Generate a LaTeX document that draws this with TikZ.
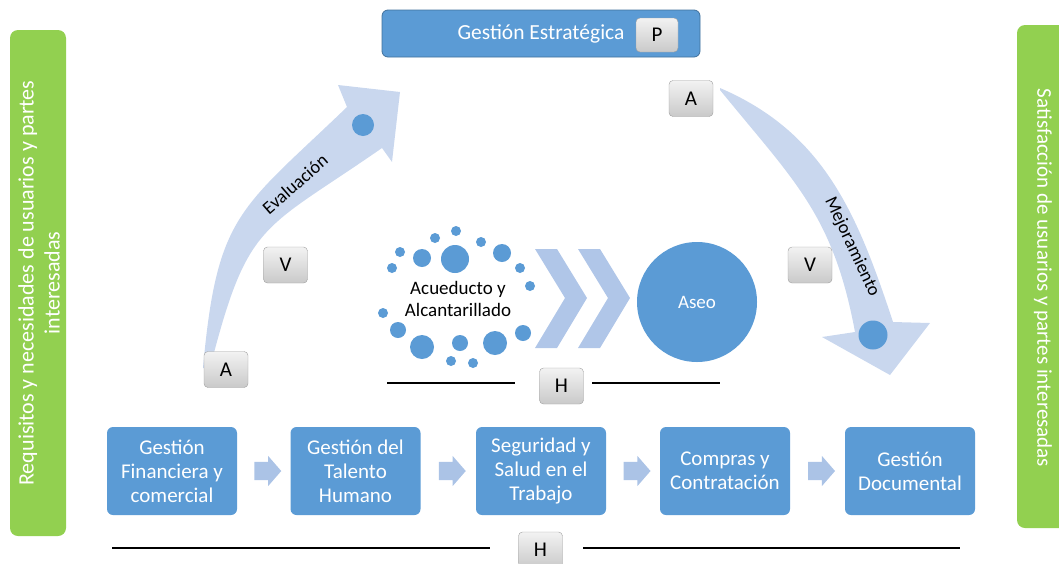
\documentclass[tikz,border=0pt]{standalone}
\usepackage{fontspec}
\setmainfont{Carlito}
\usetikzlibrary{shapes.arrows,calc}
\definecolor{boxblue}{HTML}{5B9BD5}
\definecolor{boxedge}{HTML}{41719C}
\definecolor{lgreen}{HTML}{92D050}
\definecolor{pale}{HTML}{C9D7EE}
\definecolor{chev}{HTML}{B0C6E8}
\definecolor{sarrow}{HTML}{ABC3E6}
\begin{document}
\begin{tikzpicture}[x=1pt,y=-1pt,
  procbox/.style={rounded corners=6pt, fill=boxblue, text=white, minimum width=130pt, minimum height=88pt, align=center, font=\fontsize{21}{24}\selectfont, inner sep=2pt},
  tag/.style={rounded corners=4pt, draw=gray!75, top color=gray!10, bottom color=gray!42, minimum width=44pt, minimum height=36pt, font=\fontsize{21}{24}\selectfont, inner sep=0pt},
  flowarrow/.style={single arrow, fill=sarrow, draw=none, minimum height=27pt, inner xsep=0pt, inner ysep=9pt, single arrow head extend=6pt, single arrow tip angle=98},
  greenbar/.style={rounded corners=8pt, fill=lgreen, draw=none},
  bartext/.style={text=white, align=center, font=\fontsize{22}{26}\selectfont},
  dot/.style={circle, fill=boxblue, draw=none, inner sep=0pt},
  hline/.style={line width=1.2pt, black},
  curvedarrow/.style={fill=pale, draw=none},
  chevron/.style={fill=chev, draw=none},
  arrowlabel/.style={font=\fontsize{18.5}{22}\selectfont, text=black}
]
\useasboundingbox (0,0) rectangle (1059,563);

% green side bars
\fill[greenbar] (10,30) rectangle (66,536);
\node[bartext, rotate=90] (reqtext) at (39,283) {Requisitos y necesidades de usuarios y partes\\interesadas};
\fill[greenbar] (1017,25) rectangle (1075,528);
\node[bartext, rotate=-90, font=\fontsize{21}{25}\selectfont] (sattext) at (1043,278) {Satisfacción de usuarios y partes interesadas};

% curved arrows
\path[curvedarrow] (203,368) .. controls (217,213) and (240,210) .. (347,107)
  -- (338,85) -- (400,92) -- (392,162) -- (382,148)
  .. controls (261,232) and (248,220) .. (210,368) -- cycle;
\path[curvedarrow] (720,88) .. controls (825,133) and (858,216) .. (893,322)
  -- (930,323) -- (890,375) -- (822,337) -- (855,332)
  .. controls (833,214) and (794,181) .. (720,90) -- cycle;
\node[dot, minimum size=22pt] (cleft) at (363,125) {};
\node[dot, minimum size=29pt] (cright) at (873,335) {};
\node[arrowlabel, rotate=41] (eval) at (295,184) {Evaluación};
\node[arrowlabel, rotate=-65] (mejora) at (852,247) {Mejoramiento};

% top box
\node[rounded corners=6pt, fill=boxblue, draw=boxedge, line width=0.8pt, text=white, minimum width=318pt, minimum height=47pt, font=\fontsize{21.5}{24}\selectfont] (strat) at (541,33.5) {Gestión Estratégica\hspace{44pt}};
\node[tag, minimum height=34pt, minimum width=42pt] (tP) at (657,35) {P};

% tags
\node[tag] (tA1) at (691,98.5) {A};
\node[tag] (tV1) at (285.5,265) {V};
\node[tag] (tV2) at (810,265) {V};
\node[tag] (tA2) at (226,369.5) {A};
\node[tag] (tH1) at (561.5,386) {H};
\node[tag] (tH2) at (540.5,550) {H};

% H lines
\coordinate (l1a) at (387,383);
\coordinate (l1b) at (515,383);
\coordinate (l2a) at (592,383);
\coordinate (l2b) at (720,383);
\draw[hline] (l1a) -- (l1b);
\draw[hline] (l2a) -- (l2b);
\coordinate (l3a) at (112,548);
\coordinate (l3b) at (490,548);
\coordinate (l4a) at (583,548);
\coordinate (l4b) at (960,548);
\draw[hline] (l3a) -- (l3b);
\draw[hline] (l4a) -- (l4b);

% dots ring
\foreach \x/\y/\r [count=\i] in {456/231/5, 435/238/5, 481/242/5, 400/252/5, 422/258/9, 455/259/14, 502/253/9, 392/268/5, 520/268/5, 530/286/5, 383/313/5, 398/330/8, 523/333/8, 422/347/12, 460/343/8, 495/343/12, 451/361/5, 473/363/5}
  \node[dot, minimum size=2*\r pt] (d\i) at (\x,\y) {};
\node[font=\fontsize{19}{22}\selectfont, align=center] (acu) at (458,299) {Acueducto y\\Alcantarillado};

% chevrons
\path[chevron] (535,249) -- (557,249) -- (587,298) -- (557,348) -- (535,348) -- (565,298) -- cycle;
\path[chevron] (578,249) -- (600,249) -- (630,298) -- (600,348) -- (578,348) -- (608,298) -- cycle;

% Aseo
\node[circle, fill=boxblue, minimum size=120pt, text=white, font=\fontsize{19}{22}\selectfont] (aseo) at (697,302) {Aseo};

% process boxes
\node[procbox] (b1) at (172,471) {Gestión\\Financiera y\\comercial};
\node[procbox] (b2) at (355.5,471) {Gestión del\\Talento\\Humano};
\node[procbox] (b3) at (541,471) {Seguridad y\\Salud en el\\Trabajo};
\node[procbox] (b4) at (725,471) {Compras y\\Contratación};
\node[procbox] (b5) at (910,471) {Gestión\\Documental};
\node[flowarrow] (f1) at ($(b1.east)!0.5!(b2.west)$) {};
\node[flowarrow] (f2) at ($(b2.east)!0.5!(b3.west)$) {};
\node[flowarrow] (f3) at ($(b3.east)!0.5!(b4.west)$) {};
\node[flowarrow] (f4) at ($(b4.east)!0.5!(b5.west)$) {};
\end{tikzpicture}
\end{document}
